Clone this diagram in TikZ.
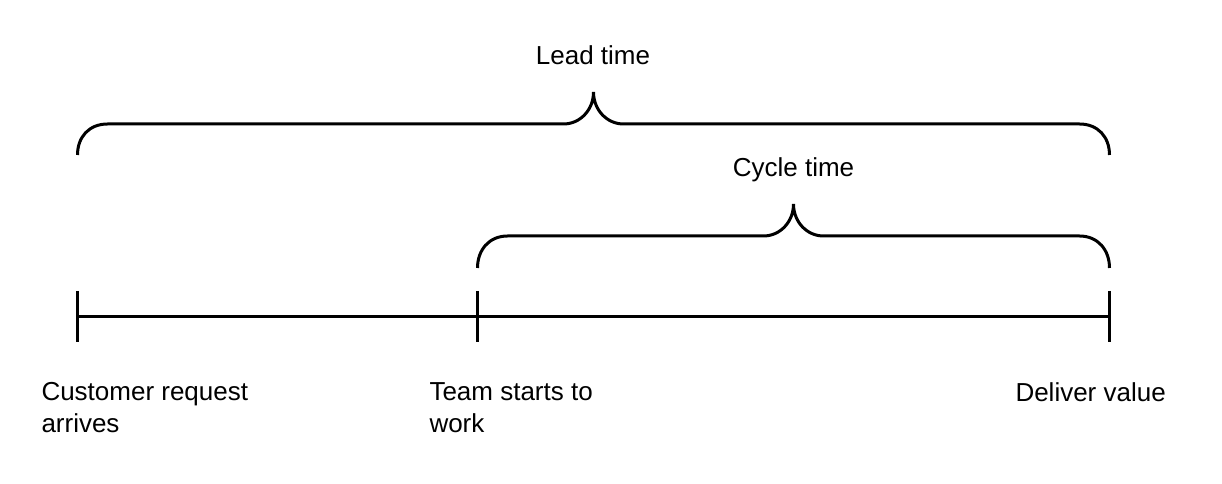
\documentclass[tikz,border=0pt]{standalone}
\usepackage{fontspec}
\setmainfont{Liberation Sans}
\tikzset{
  ln/.style={line width=2.25pt, black},
  brc/.style={line width=2.25pt, black, line cap=butt},
  lbl/.style={inner sep=0pt, outer sep=0pt, font=\fontsize{19.5pt}{23.6pt}\selectfont, align=left},
}
\begin{document}
\begin{tikzpicture}[x=0.75pt, y=-0.75pt]
\useasboundingbox[fill=white] (0,0) rectangle (1222,484);
% timeline points
\coordinate (t1) at (77.5,317);
\coordinate (t2) at (477.5,317);
\coordinate (t3) at (1109.5,317);
\draw[ln] (t1) -- (t3);
\foreach \t in {t1,t2,t3}{
  \draw[ln] ([yshift=19.5pt]\t) -- ([yshift=-19pt]\t);
}
% lead time brace
\coordinate (la) at (77.5,155);
\coordinate (lp) at (593.5,92);
\coordinate (lb) at (1109.5,155);
\draw[brc] (la) .. controls (77.5,137) and (89,124) .. (107.5,124)
  -- (563.5,124) .. controls (580,124) and (593.5,110) .. (lp)
  .. controls (593.5,110) and (607,124) .. (623.5,124)
  -- (1079.5,124) .. controls (1098,124) and (1109.5,137) .. (lb);
% cycle time brace
\coordinate (ca) at (477.5,268);
\coordinate (cp) at (793.5,204);
\coordinate (cb) at (1109.5,268);
\draw[brc] (ca) .. controls (477.5,250) and (489,236) .. (507.5,236)
  -- (763.5,236) .. controls (780,236) and (793.5,222) .. (cp)
  .. controls (793.5,222) and (807,236) .. (823.5,236)
  -- (1079.5,236) .. controls (1098,236) and (1109.5,250) .. (cb);
% labels
\node[lbl, anchor=base] (lead) at (593,65) {Lead time};
\node[lbl, anchor=base] (cycle) at (793.5,177) {Cycle time};
\node[lbl, anchor=north west] (req) at (41.5,382.5) {Customer request\\arrives};
\node[lbl, anchor=north west] (team) at (429.5,383) {Team starts to\\work};
\node[lbl, anchor=base west] (deliver) at (1015.5,401.5) {Deliver value};
\end{tikzpicture}
\end{document}
